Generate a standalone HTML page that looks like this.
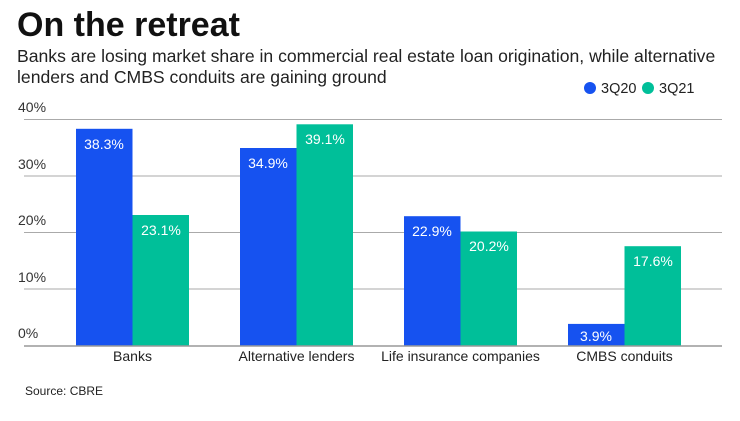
<!DOCTYPE html>
<html><head><meta charset="utf-8"><style>
body{margin:0;width:740px;height:416px;background:#fff;font-family:"Liberation Sans",sans-serif;overflow:hidden;position:relative}
</style></head><body>
<svg width="740" height="416" xmlns="http://www.w3.org/2000/svg" font-family="Liberation Sans, sans-serif">
<text x="17" y="36" font-size="34" font-weight="bold" fill="#111">On the retreat</text>
<text x="17" y="62" font-size="17.6" fill="#222">Banks are losing market share in commercial real estate loan origination, while alternative</text>
<text x="17" y="83" font-size="17.6" fill="#222">lenders and CMBS conduits are gaining ground</text>
<circle cx="590" cy="88" r="6" fill="#1652f0"/><text x="601" y="93" font-size="14.5" fill="#222">3Q20</text>
<circle cx="648" cy="88" r="6" fill="#00bf99"/><text x="659" y="93" font-size="14.5" fill="#222">3Q21</text>
<g stroke="#aaa" stroke-width="1">
<line x1="24" x2="722" y1="119.5" y2="119.5"/><line x1="24" x2="722" y1="176" y2="176"/><line x1="24" x2="722" y1="232.5" y2="232.5"/><line x1="24" x2="722" y1="289" y2="289"/>
</g>
<g font-size="14" fill="#333">
<text x="18" y="112">40%</text><text x="18" y="169">30%</text><text x="18" y="225">20%</text><text x="18" y="282">10%</text><text x="18" y="338">0%</text>
</g>
<g>
<rect x="76" y="128.8" width="56.5" height="217.2" fill="#1652f0"/><rect x="132.5" y="215" width="56.5" height="131" fill="#00bf99"/>
<rect x="240" y="148" width="56.5" height="198" fill="#1652f0"/><rect x="296.5" y="124.3" width="56.5" height="221.7" fill="#00bf99"/>
<rect x="404" y="216.2" width="56.5" height="129.8" fill="#1652f0"/><rect x="460.5" y="231.5" width="56.5" height="114.5" fill="#00bf99"/>
<rect x="568" y="323.9" width="56.5" height="22.1" fill="#1652f0"/><rect x="624.5" y="246.2" width="56.5" height="99.8" fill="#00bf99"/>
</g>
<g font-size="14" fill="#fff" text-anchor="middle">
<text x="104" y="149">38.3%</text><text x="161" y="235">23.1%</text>
<text x="268" y="168">34.9%</text><text x="325" y="144">39.1%</text>
<text x="432" y="236">22.9%</text><text x="489" y="251">20.2%</text>
<text x="596" y="341">3.9%</text><text x="653" y="266">17.6%</text>
</g>
<line x1="24" x2="722" y1="346" y2="346" stroke="#999" stroke-width="1.5"/>
<g font-size="14" fill="#222" text-anchor="middle">
<text x="132.5" y="361">Banks</text><text x="296.5" y="361">Alternative lenders</text><text x="460.5" y="361">Life insurance companies</text><text x="624.5" y="361">CMBS conduits</text>
</g>
<text x="25" y="395" font-size="12" fill="#222">Source: CBRE</text>
</svg>
</body></html>
